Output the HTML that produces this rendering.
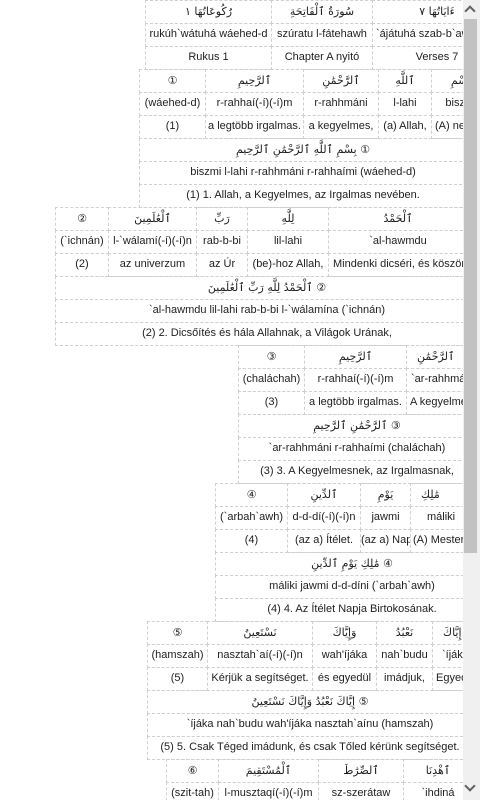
<!DOCTYPE html>
<html><head><meta charset="utf-8"><style>
html,body{margin:0;padding:0;background:#fff;width:480px;height:800px;overflow:hidden}
#v{position:absolute;left:0;top:0;width:463px;height:800px;overflow:hidden}
.c{position:absolute;box-sizing:border-box;border:1px dashed #d0d0d0;font:11px "Liberation Sans","DejaVu Sans",sans-serif;color:#1e1e1e;text-align:center;white-space:nowrap;overflow:hidden;line-height:21px;height:24px}
.a{font-family:"DejaVu Sans","Noto Sans CJK SC",sans-serif;font-size:11px}
#sb{position:absolute;left:463px;top:0;width:17px;height:800px;background:#f0f0f0}
#th{position:absolute;left:464px;top:19px;width:13px;height:534px;background:#c2c2c2}
.ar{position:absolute;left:466px;width:8px;height:8px;border-left:2px solid #606060;border-top:2px solid #606060;box-sizing:border-box}
</style></head><body>
<div id="v">
<!-- header -->
<div class="c a" style="left:145px;top:0;width:127px">رُكُوعَاتُهَا ١</div>
<div class="c a" style="left:271px;top:0;width:102px">سُورَةُ ٱلْفَاتِحَةِ</div>
<div class="c a" style="left:372px;top:0;width:130px">ءَايَاتُهَا ٧</div>
<div class="c" style="left:145px;top:23px;width:127px">rukúh`wátuhá wáehed-d</div>
<div class="c" style="left:271px;top:23px;width:102px">szúratu l-fátehawh</div>
<div class="c" style="left:372px;top:23px;width:130px;text-align:left;padding-left:3px">`ájátuhá szab-b`awh</div>
<div class="c" style="left:145px;top:46px;width:127px">Rukus 1</div>
<div class="c" style="left:271px;top:46px;width:102px">Chapter A nyitó</div>
<div class="c" style="left:372px;top:46px;width:130px">Verses 7</div>
<!-- verse 1 -->
<div class="c a" style="left:139px;top:69px;width:67px">①</div>
<div class="c a" style="left:205px;top:69px;width:99px">ٱلرَّحِيمِ</div>
<div class="c a" style="left:303px;top:69px;width:76px">ٱلرَّحْمَٰنِ</div>
<div class="c a" style="left:378px;top:69px;width:54px">ٱللَّهِ</div>
<div class="c a" style="left:431px;top:69px;width:60px">بِسْمِ</div>
<div class="c" style="left:139px;top:92px;width:67px">(wáehed-d)</div>
<div class="c" style="left:205px;top:92px;width:99px">r-rahhaí(-í)(-í)m</div>
<div class="c" style="left:303px;top:92px;width:76px">r-rahhmáni</div>
<div class="c" style="left:378px;top:92px;width:54px">l-lahi</div>
<div class="c" style="left:431px;top:92px;width:60px">biszmi</div>
<div class="c" style="left:139px;top:115px;width:67px">(1)</div>
<div class="c" style="left:205px;top:115px;width:99px">a legtöbb irgalmas.</div>
<div class="c" style="left:303px;top:115px;width:76px">a kegyelmes,</div>
<div class="c" style="left:378px;top:115px;width:54px">(a) Allah,</div>
<div class="c" style="left:431px;top:115px;width:60px;text-align:left;padding-left:3px">(A) nevében</div>
<div class="c a" style="left:139px;top:138px;width:328px">بِسْمِ ٱللَّهِ ٱلرَّحْمَٰنِ ٱلرَّحِيمِ ①</div>
<div class="c" style="left:139px;top:161px;width:328px">biszmi l-lahi r-rahhmáni r-rahhaími (wáehed-d)</div>
<div class="c" style="left:139px;top:184px;width:328px">(1) 1. Allah, a Kegyelmes, az Irgalmas nevében.</div>
<!-- verse 2 -->
<div class="c a" style="left:55px;top:207px;width:54px">②</div>
<div class="c a" style="left:108px;top:207px;width:89px">ٱلْعَٰلَمِينَ</div>
<div class="c a" style="left:196px;top:207px;width:52px">رَبِّ</div>
<div class="c a" style="left:247px;top:207px;width:82px">لِلَّهِ</div>
<div class="c a" style="left:328px;top:207px;width:140px">ٱلْحَمْدُ</div>
<div class="c" style="left:55px;top:230px;width:54px">(`ichnán)</div>
<div class="c" style="left:108px;top:230px;width:89px">l-`wálamí(-í)(-í)n</div>
<div class="c" style="left:196px;top:230px;width:52px">rab-b-bi</div>
<div class="c" style="left:247px;top:230px;width:82px">lil-lahi</div>
<div class="c" style="left:328px;top:230px;width:140px">`al-hawmdu</div>
<div class="c" style="left:55px;top:253px;width:54px">(2)</div>
<div class="c" style="left:108px;top:253px;width:89px">az univerzum</div>
<div class="c" style="left:196px;top:253px;width:52px">az Úr</div>
<div class="c" style="left:247px;top:253px;width:82px">(be)-hoz Allah,</div>
<div class="c" style="left:328px;top:253px;width:140px;text-align:left;padding-left:4px">Mindenki dicséri, és köszöni</div>
<div class="c a" style="left:55px;top:276px;width:424px">ٱلْحَمْدُ لِلَّهِ رَبِّ ٱلْعَٰلَمِينَ ②</div>
<div class="c" style="left:55px;top:299px;width:424px">`al-hawmdu lil-lahi rab-b-bi l-`wálamína (`ichnán)</div>
<div class="c" style="left:55px;top:322px;width:424px">(2) 2. Dicsőítés és hála Allahnak, a Világok Urának,</div>
<!-- verse 3 -->
<div class="c a" style="left:238px;top:345px;width:67px">③</div>
<div class="c a" style="left:304px;top:345px;width:103px">ٱلرَّحِيمِ</div>
<div class="c a" style="left:406px;top:345px;width:80px;text-align:left;padding-left:10px">ٱلرَّحْمَٰنِ</div>
<div class="c" style="left:238px;top:368px;width:67px">(chaláchah)</div>
<div class="c" style="left:304px;top:368px;width:103px">r-rahhaí(-í)(-í)m</div>
<div class="c" style="left:406px;top:368px;width:80px;text-align:left;padding-left:4px">`ar-rahhmáni</div>
<div class="c" style="left:238px;top:391px;width:67px">(3)</div>
<div class="c" style="left:304px;top:391px;width:103px">a legtöbb irgalmas.</div>
<div class="c" style="left:406px;top:391px;width:80px;text-align:left;padding-left:3px">A kegyelmes</div>
<div class="c a" style="left:238px;top:414px;width:238px">ٱلرَّحْمَٰنِ ٱلرَّحِيمِ ③</div>
<div class="c" style="left:238px;top:437px;width:238px">`ar-rahhmáni r-rahhaími (chaláchah)</div>
<div class="c" style="left:238px;top:460px;width:238px">(3) 3. A Kegyelmesnek, az Irgalmasnak,</div>
<!-- verse 4 -->
<div class="c a" style="left:215px;top:483px;width:73px">④</div>
<div class="c a" style="left:287px;top:483px;width:74px">ٱلدِّينِ</div>
<div class="c a" style="left:360px;top:483px;width:51px">يَوْمِ</div>
<div class="c a" style="left:410px;top:483px;width:70px;text-align:left;padding-left:10px">مَٰلِكِ</div>
<div class="c" style="left:215px;top:506px;width:73px">(`arbah`awh)</div>
<div class="c" style="left:287px;top:506px;width:74px">d-d-dí(-í)(-í)n</div>
<div class="c" style="left:360px;top:506px;width:51px">jawmi</div>
<div class="c" style="left:410px;top:506px;width:70px;text-align:left;padding-left:16px">máliki</div>
<div class="c" style="left:215px;top:529px;width:73px">(4)</div>
<div class="c" style="left:287px;top:529px;width:74px">(az a) Ítélet.</div>
<div class="c" style="left:360px;top:529px;width:51px">(az a) Nap</div>
<div class="c" style="left:410px;top:529px;width:70px;text-align:left;padding-left:2px">(A) Mestere</div>
<div class="c a" style="left:215px;top:552px;width:274px">مَٰلِكِ يَوْمِ ٱلدِّينِ ④</div>
<div class="c" style="left:215px;top:575px;width:274px">máliki jawmi d-d-díni (`arbah`awh)</div>
<div class="c" style="left:215px;top:598px;width:274px">(4) 4. Az Ítélet Napja Birtokosának.</div>
<!-- verse 5 -->
<div class="c a" style="left:147px;top:621px;width:61px">⑤</div>
<div class="c a" style="left:207px;top:621px;width:106px">نَسْتَعِينُ</div>
<div class="c a" style="left:312px;top:621px;width:65px">وَإِيَّاكَ</div>
<div class="c a" style="left:376px;top:621px;width:57px">نَعْبُدُ</div>
<div class="c a" style="left:432px;top:621px;width:60px;text-align:left;padding-left:10px">إِيَّاكَ</div>
<div class="c" style="left:147px;top:644px;width:61px">(hamszah)</div>
<div class="c" style="left:207px;top:644px;width:106px">nasztah`aí(-í)(-í)n</div>
<div class="c" style="left:312px;top:644px;width:65px">wah'íjáka</div>
<div class="c" style="left:376px;top:644px;width:57px">nah`budu</div>
<div class="c" style="left:432px;top:644px;width:60px;text-align:left;padding-left:9px">`íjáka</div>
<div class="c" style="left:147px;top:667px;width:61px">(5)</div>
<div class="c" style="left:207px;top:667px;width:106px">Kérjük a segítséget.</div>
<div class="c" style="left:312px;top:667px;width:65px">és egyedül</div>
<div class="c" style="left:376px;top:667px;width:57px">imádjuk,</div>
<div class="c" style="left:432px;top:667px;width:60px;text-align:left;padding-left:3px">Egyedül</div>
<div class="c a" style="left:147px;top:690px;width:326px">إِيَّاكَ نَعْبُدُ وَإِيَّاكَ نَسْتَعِينُ ⑤</div>
<div class="c" style="left:147px;top:713px;width:326px">`íjáka nah`budu wah'íjáka nasztah`aínu (hamszah)</div>
<div class="c" style="left:147px;top:736px;width:326px">(5) 5. Csak Téged imádunk, és csak Tőled kérünk segítséget.</div>
<!-- verse 6 -->
<div class="c a" style="left:166px;top:759px;width:53px">⑥</div>
<div class="c a" style="left:218px;top:759px;width:101px">ٱلْمُسْتَقِيمَ</div>
<div class="c a" style="left:318px;top:759px;width:86px">ٱلصِّرَٰطَ</div>
<div class="c a" style="left:403px;top:759px;width:70px">ٱهْدِنَا</div>
<div class="c" style="left:166px;top:782px;width:53px">(szit-tah)</div>
<div class="c" style="left:218px;top:782px;width:101px">l-musztaqí(-í)(-í)m</div>
<div class="c" style="left:318px;top:782px;width:86px">sz-szerátaw</div>
<div class="c" style="left:403px;top:782px;width:70px">`ihdiná</div>
</div>
<div id="sb"></div>
<div id="th"></div>
<div class="ar" style="top:7px;transform:rotate(45deg)"></div>
<div class="ar" style="top:782px;transform:rotate(225deg)"></div>
</body></html>
